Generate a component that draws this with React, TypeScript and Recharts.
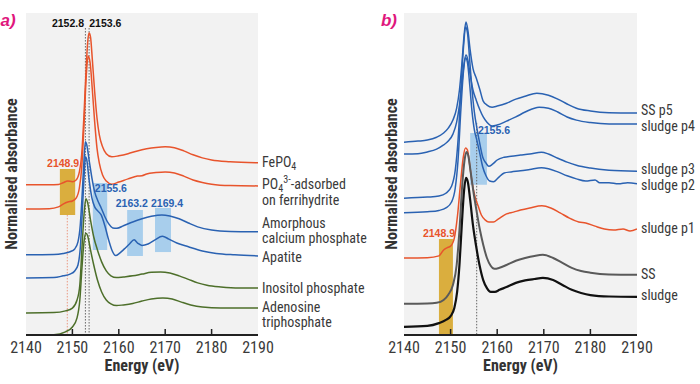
import { LineChart, Line, XAxis, YAxis, CartesianGrid, ReferenceArea, ReferenceLine, ReferenceDot } from 'recharts';

// energy axis
const E_MIN = 2140;
const E_MAX = 2190;
const ENERGY_TICKS = [2140, 2150, 2160, 2170, 2180, 2190];
const INNER_TICKS = [2150, 2160, 2170, 2180];
const Y_MAX = 9.2; // normalised absorbance incl. stacking offsets

const ORANGE = '#e8542c';
const BLUE = '#2a62b2';
const GREEN = '#4d6f2a';
const GREY = '#5a5a5a';
const BLACK = '#111111';
const FRAME = '#222222';
const TEXT = '#3a3a3a';
const NARROW = "'Liberation Sans Narrow', 'Roboto Condensed', 'DejaVu Sans Condensed', Roboto, sans-serif";
const ARIAL = "'Liberation Sans', Arial, sans-serif";

// ---- panel a spectra: [energy eV, normalised absorbance] ----
const FEPO4: [number, number][] = [
  [2140, 0], [2145, 0], [2147, 0.01], [2148, 0.06], [2149, 0.11], [2150, 0.09], [2150.8, 0.14],
  [2151.5, 0.37], [2152, 0.86], [2152.5, 2.0], [2153, 3.43], [2153.3, 4.09], [2153.6, 4.34],
  [2153.9, 4.23], [2154.3, 3.57], [2154.8, 2.66], [2155.3, 1.91], [2155.8, 1.43], [2156.5, 1.09],
  [2157.3, 0.89], [2158.5, 0.8], [2160, 0.83], [2162, 0.89], [2164, 0.97], [2166, 1.03],
  [2168, 1.07], [2170, 1.09], [2172, 1.06], [2174, 0.97], [2176, 0.86], [2178, 0.77],
  [2180, 0.71], [2184, 0.66], [2190, 0.63],
];
const PO4_FERRIHYDRITE: [number, number][] = [
  [2140, 0], [2145, 0.01], [2147, 0.06], [2148, 0.14], [2149, 0.2], [2150, 0.23], [2150.8, 0.31],
  [2151.5, 0.6], [2152, 1.17], [2152.5, 2.4], [2153, 3.83], [2153.4, 4.37], [2153.8, 4.2],
  [2154.3, 3.4], [2154.8, 2.49], [2155.3, 1.74], [2155.8, 1.31], [2156.5, 0.97], [2157.3, 0.8],
  [2158.5, 0.71], [2160, 0.77], [2162, 0.86], [2164, 0.94], [2165, 0.95], [2166, 1.0],
  [2168, 1.04], [2170, 1.06], [2172, 1.03], [2174, 0.94], [2176, 0.83], [2178, 0.76],
  [2180, 0.71], [2184, 0.67], [2190, 0.66],
];
const AMORPHOUS_CAP: [number, number][] = [
  [2140, 0], [2146, 0.01], [2148, 0.04], [2149.5, 0.09], [2150.5, 0.17], [2151.2, 0.37],
  [2151.7, 0.86], [2152.1, 1.71], [2152.5, 2.71], [2152.8, 3.23], [2153.1, 3.14], [2153.6, 2.71],
  [2154.2, 2.2], [2154.8, 1.8], [2155.5, 1.54], [2156.2, 1.34], [2157, 1.09], [2157.8, 0.89],
  [2158.7, 0.77], [2159.6, 0.76], [2161, 0.83], [2163, 0.94], [2165, 1.03], [2167, 1.1],
  [2169.3, 1.14], [2171, 1.11], [2173, 1.03], [2175, 0.91], [2177, 0.8], [2180, 0.71],
  [2184, 0.67], [2190, 0.66],
];
const APATITE: [number, number][] = [
  [2140, 0], [2146, 0.01], [2148, 0.06], [2149.5, 0.11], [2150.5, 0.2], [2151.2, 0.37],
  [2151.7, 0.86], [2152.1, 1.8], [2152.5, 2.86], [2152.8, 3.46], [2153.1, 3.37], [2153.6, 2.8],
  [2154.2, 2.29], [2154.8, 2.03], [2155.5, 1.91], [2156.2, 1.8], [2157, 1.49], [2157.8, 1.09],
  [2158.5, 0.8], [2159.3, 0.64], [2160.2, 0.71], [2161.2, 0.83], [2162.3, 0.97], [2163.3, 1.09],
  [2164.1, 0.99], [2165, 0.93], [2166.3, 0.97], [2167.8, 1.09], [2169.4, 1.19], [2170.8, 1.11],
  [2172.5, 1.0], [2175, 0.89], [2178, 0.77], [2181, 0.7], [2185, 0.66], [2190, 0.63],
];
const INOSITOL: [number, number][] = [
  [2140, 0], [2146, 0.01], [2148.5, 0.06], [2150, 0.14], [2151, 0.37], [2151.6, 0.8],
  [2152.1, 1.94], [2152.5, 2.8], [2152.9, 3.26], [2153.3, 3.14], [2153.9, 2.66], [2154.6, 2.17],
  [2155.4, 1.8], [2156.3, 1.46], [2157.3, 1.2], [2158.3, 1.06], [2159.5, 1.01], [2161, 1.03],
  [2163, 1.06], [2165, 1.11], [2167, 1.16], [2169, 1.17], [2171, 1.14], [2173, 1.06],
  [2175, 0.96], [2177, 0.86], [2179, 0.79], [2182, 0.74], [2186, 0.71], [2190, 0.71],
];
const ATP: [number, number][] = [
  [2140, 0], [2146, 0.01], [2148.5, 0.09], [2150, 0.23], [2151, 0.49], [2151.6, 1.0],
  [2152.1, 2.0], [2152.5, 2.66], [2152.9, 2.91], [2153.3, 2.83], [2153.9, 2.43], [2154.6, 2.0],
  [2155.4, 1.57], [2156.3, 1.23], [2157.3, 1.0], [2158.3, 0.89], [2159.5, 0.84], [2161, 0.86],
  [2163, 0.9], [2165, 0.97], [2167, 1.03], [2169.5, 1.06], [2171.5, 1.03], [2173.5, 0.94],
  [2175.5, 0.86], [2178, 0.8], [2182, 0.77], [2190, 0.77],
];
const OFFSETS_A = [4.29, 3.6, 2.29, 1.63, 0.63, 0];

// ---- panel b spectra ----
const SS_P5: [number, number][] = [
  [2140, 0], [2143, 0.03], [2145, 0.06], [2147, 0.14], [2148.5, 0.26], [2149.5, 0.4],
  [2150.5, 0.63], [2151.3, 0.97], [2151.9, 1.49], [2152.4, 2.2], [2152.9, 3.06], [2153.3, 3.43],
  [2153.7, 3.2], [2154.2, 2.63], [2154.8, 2.11], [2155.5, 1.83], [2156.3, 1.49], [2157, 1.17],
  [2157.8, 1.06], [2158.9, 1.0], [2160, 1.03], [2162, 1.11], [2164, 1.23], [2166, 1.31],
  [2168.5, 1.4], [2171, 1.34], [2173, 1.23], [2175, 1.09], [2177, 0.97], [2180, 0.89],
  [2184, 0.84], [2190, 0.83],
];
const SLUDGE_P4: [number, number][] = [
  [2140, 0], [2143, 0.01], [2145, 0.06], [2147, 0.14], [2148.5, 0.26], [2149.5, 0.37],
  [2150.5, 0.57], [2151.3, 0.91], [2151.9, 1.4], [2152.4, 1.97], [2152.9, 2.6], [2153.3, 2.83],
  [2153.7, 2.69], [2154.2, 2.26], [2154.8, 1.83], [2155.5, 1.54], [2156.3, 1.26], [2157, 1.06],
  [2157.8, 0.91], [2158.9, 0.8], [2160, 0.83], [2162, 0.94], [2164, 1.06], [2166, 1.2],
  [2169, 1.34], [2171, 1.31], [2173, 1.2], [2175, 1.06], [2177, 0.97], [2180, 0.9],
  [2184, 0.86], [2190, 0.86],
];
const SLUDGE_P3: [number, number][] = [
  [2140, 0], [2145, 0.03], [2147.5, 0.06], [2149, 0.14], [2150.2, 0.34], [2151, 0.8],
  [2151.6, 1.66], [2152.2, 3.09], [2152.8, 4.37], [2153.2, 4.89], [2153.6, 4.74], [2154.1, 3.94],
  [2154.6, 3.09], [2155.1, 2.46], [2155.6, 2.03], [2156.2, 1.6], [2156.9, 1.17], [2157.6, 1.0],
  [2158.2, 0.91], [2159, 0.97], [2160, 1.09], [2161.5, 1.17], [2163, 1.2], [2165, 1.23],
  [2167, 1.26], [2169.5, 1.31], [2171, 1.26], [2173, 1.14], [2175, 1.03], [2177, 0.94],
  [2180, 0.86], [2184, 0.8], [2190, 0.77],
];
const SLUDGE_P2: [number, number][] = [
  [2140, 0], [2145, 0.03], [2147.5, 0.07], [2149, 0.14], [2150.2, 0.31], [2151, 0.71],
  [2151.6, 1.51], [2152.2, 2.94], [2152.8, 4.09], [2153.2, 4.43], [2153.6, 4.31], [2154.1, 3.66],
  [2154.6, 2.89], [2155.1, 2.37], [2155.6, 2.09], [2156.2, 1.74], [2156.9, 1.31], [2157.6, 1.06],
  [2158.4, 0.91], [2159.2, 0.89], [2160.2, 1.0], [2161.5, 1.14], [2163, 1.17], [2165, 1.2],
  [2167, 1.24], [2169.5, 1.29], [2171, 1.26], [2173, 1.17], [2175, 1.06], [2177, 0.97],
  [2179, 0.91], [2181, 0.94], [2182, 0.86], [2184, 0.86], [2186, 0.83], [2188, 0.86], [2190, 0.83],
];
const SLUDGE_P1: [number, number][] = [
  [2140, 0], [2145, 0.01], [2147.5, 0.06], [2148.5, 0.23], [2149.2, 0.29], [2150, 0.34],
  [2150.8, 0.57], [2151.5, 1.23], [2152.1, 2.09], [2152.7, 2.86], [2153.2, 3.14], [2153.6, 3.09],
  [2154.1, 2.66], [2154.6, 2.17], [2155.2, 1.77], [2155.9, 1.49], [2156.6, 1.23], [2157.4, 1.09],
  [2158.2, 1.03], [2159.2, 1.03], [2160.2, 1.11], [2162, 1.26], [2163.5, 1.31], [2165, 1.37],
  [2167, 1.43], [2169.6, 1.49], [2171.5, 1.43], [2173.5, 1.29], [2175.5, 1.14], [2177.5, 1.03],
  [2179, 1.0], [2181, 0.91], [2183, 0.83], [2185, 0.8], [2187, 0.83], [2188.5, 0.77], [2190, 0.83],
];
const SS: [number, number][] = [
  [2140, 0], [2145, 0.01], [2147, 0.03], [2148.5, 0.11], [2149.5, 0.26], [2150.5, 0.54],
  [2151.3, 1.11], [2151.9, 2.11], [2152.5, 3.4], [2153, 4.11], [2153.4, 4.34], [2153.8, 4.23],
  [2154.3, 3.77], [2154.9, 3.2], [2155.6, 2.63], [2156.3, 2.11], [2157, 1.69], [2157.8, 1.31],
  [2158.6, 1.09], [2159.4, 1.0], [2160.5, 1.03], [2162, 1.11], [2164, 1.23], [2166, 1.31],
  [2168, 1.37], [2169.8, 1.4], [2172, 1.31], [2174, 1.17], [2176, 1.03], [2178, 0.94],
  [2180, 0.89], [2184, 0.84], [2190, 0.83],
];
const SLUDGE: [number, number][] = [
  [2140, 0], [2145, 0.03], [2147.5, 0.11], [2149, 0.2], [2150, 0.31], [2150.8, 0.54],
  [2151.4, 1.0], [2151.9, 1.77], [2152.4, 2.91], [2152.9, 3.91], [2153.3, 4.26], [2153.7, 4.14],
  [2154.2, 3.63], [2154.8, 2.91], [2155.5, 2.29], [2156.2, 1.77], [2157, 1.34], [2157.8, 1.11],
  [2158.6, 1.0], [2159.5, 1.0], [2160.5, 1.06], [2162, 1.14], [2164, 1.26], [2166, 1.33],
  [2168, 1.37], [2169.8, 1.4], [2172, 1.34], [2174, 1.2], [2176, 1.06], [2178, 0.97],
  [2180, 0.91], [2184, 0.87], [2190, 0.86],
];
const OFFSETS_B = [5.51, 5.17, 3.91, 3.49, 2.2, 0.89, 0.23];

type Spec = { pts: [number, number][]; color: string; width?: number };

const SPECTRA_A: Spec[] = [
  { pts: FEPO4, color: ORANGE },
  { pts: PO4_FERRIHYDRITE, color: ORANGE },
  { pts: AMORPHOUS_CAP, color: BLUE },
  { pts: APATITE, color: BLUE },
  { pts: INOSITOL, color: GREEN },
  { pts: ATP, color: GREEN },
];
const SPECTRA_B: Spec[] = [
  { pts: SS_P5, color: BLUE },
  { pts: SLUDGE_P4, color: BLUE },
  { pts: SLUDGE_P3, color: BLUE },
  { pts: SLUDGE_P2, color: BLUE },
  { pts: SLUDGE_P1, color: ORANGE },
  { pts: SS, color: GREY, width: 2 },
  { pts: SLUDGE, color: BLACK, width: 2.2 },
];

// right-hand sample names; y is where the first line sits
const LABELS_A = [
  { lines: ['FePO_{4}'], y: 4.94 },
  { lines: ['PO_{4}^{3-}-adsorbed', 'on ferrihydrite'], y: 4.31, gap: 16 },
  { lines: ['Amorphous', 'calcium phosphate'], y: 3.2 },
  { lines: ['Apatite'], y: 2.23 },
  { lines: ['Inositol phosphate'], y: 1.34 },
  { lines: ['Adenosine', 'triphosphate'], y: 0.8 },
];
const LABELS_B = [
  { lines: ['SS p5'], y: 6.43 },
  { lines: ['sludge p4'], y: 5.97 },
  { lines: ['sludge p3'], y: 4.74 },
  { lines: ['sludge p2'], y: 4.29 },
  { lines: ['sludge p1'], y: 3.06 },
  { lines: ['SS'], y: 1.74 },
  { lines: ['sludge'], y: 1.14 },
];

// peak energies with highlight boxes
const BOXES_A = [
  { x1: 2147.3, x2: 2150.6, y1: 3.43, y2: 4.74, kind: 'pre' },
  { x1: 2154.4, x2: 2157.5, y1: 2.43, y2: 4.34, kind: 'post' },
  { x1: 2161.8, x2: 2165.2, y1: 2.26, y2: 3.57, kind: 'post' },
  { x1: 2167.8, x2: 2171.25, y1: 2.37, y2: 3.63, kind: 'post' },
];
const BOXES_B = [
  { x1: 2147.5, x2: 2150.5, y1: 0, y2: 2.74, kind: 'pre' },
  { x1: 2154.2, x2: 2157.8, y1: 4.29, y2: 5.77, kind: 'post' },
];
const NOTES_A = [
  { text: '2152.8', x: 2149.05, y: 8.91, color: '#111111' },
  { text: '2153.6', x: 2157.1, y: 8.91, color: '#111111' },
  { text: '2148.9', x: 2148.0, y: 4.91, color: ORANGE },
  { text: '2155.6', x: 2158.3, y: 4.2, color: BLUE },
  { text: '2163.2', x: 2162.8, y: 3.77, color: BLUE },
  { text: '2169.4', x: 2170.4, y: 3.77, color: BLUE },
];
const NOTES_B = [
  { text: '2155.6', x: 2159.3, y: 5.86, color: BLUE },
  { text: '2148.9', x: 2147.5, y: 2.91, color: ORANGE },
];
const GUIDES_A = [
  { x: 2152.8, top: 8.77, color: '#666666' },
  { x: 2153.6, top: 8.77, color: '#666666' },
  { x: 2148.9, top: 3.43, color: '#eb9a82' },
];
const GUIDES_B = [{ x: 2155.6, top: 6.06, color: '#666666' }];

function Rich({ s, x, y, size, ...rest }: any) {
  const parts = s.split(/(_\{[^}]*\}|\^\{[^}]*\})/).filter(Boolean);
  let shift = 0;
  return (
    <text x={x} y={y} fontSize={size} dominantBaseline="central" {...rest}>
      {parts.map((p: string, i: number) => {
        let target = 0;
        let txt = p;
        let fs = size;
        if (p.startsWith('_{')) { target = 4; txt = p.slice(2, -1); fs = size * 0.72; }
        else if (p.startsWith('^{')) { target = -5; txt = p.slice(2, -1); fs = size * 0.72; }
        const dy = target - shift;
        shift = target;
        return <tspan key={i} dy={dy} fontSize={fs}>{txt}</tspan>;
      })}
    </text>
  );
}

function BottomTick({ x, y, payload }: any) {
  return (
    <g>
      {INNER_TICKS.includes(payload.value) && (
        <line x1={x} x2={x} y1={y} y2={y - 6} stroke={FRAME} strokeWidth={1.5} />
      )}
      <text x={x} y={y + 18} textAnchor="middle" fontSize={16} fontFamily={NARROW} fill={TEXT}>
        {payload.value}
      </text>
    </g>
  );
}

function TopTick({ x, y }: any) {
  return <line x1={x} x2={x} y1={y} y2={y + 4} stroke={FRAME} strokeWidth={1} />;
}

function Panel({ tag, spectra, offsets, labels, boxes, notes, guides, width, marginLeft, marginRight, tagDx, yLabelDx }: any) {
  return (
    <LineChart width={width} height={384} margin={{ top: 13, right: marginRight, bottom: 0, left: marginLeft }}>
      <CartesianGrid horizontal={false} vertical={false} fill="#f2f2f2" />
      <XAxis
        dataKey="e" type="number" domain={[E_MIN, E_MAX]} allowDataOverflow ticks={ENERGY_TICKS} interval={0}
        height={49} tickSize={0} tickMargin={0} tickLine={false} tick={<BottomTick />}
        axisLine={{ stroke: FRAME, strokeWidth: 2 }}
        label={{ value: 'Energy (eV)', position: 'insideBottom', offset: 13, fontSize: 16, fontWeight: 700, fontFamily: NARROW, fill: '#333' }}
      />
      <XAxis
        xAxisId="top" orientation="top" type="number" domain={[E_MIN, E_MAX]} allowDataOverflow ticks={INNER_TICKS}
        height={0} tickSize={0} tickMargin={0} tickLine={false} tick={<TopTick />}
        axisLine={{ stroke: FRAME, strokeWidth: 2 }}
      />
      <YAxis type="number" domain={[0, Y_MAX]} allowDataOverflow width={0} tick={false} tickLine={false}
        axisLine={{ stroke: FRAME, strokeWidth: 2 }} />
      <YAxis yAxisId="right" orientation="right" type="number" domain={[0, Y_MAX]} allowDataOverflow width={0}
        tick={false} tickLine={false} axisLine={{ stroke: FRAME, strokeWidth: 2 }} />

      {boxes.map((b: any, i: number) => (
        <ReferenceArea key={'b' + i} x1={b.x1} x2={b.x2} y1={b.y1} y2={b.y2} ifOverflow="visible"
          fill={b.kind === 'pre' ? '#d6a21f' : '#8fc1ea'} fillOpacity={b.kind === 'pre' ? 0.85 : 0.75} stroke="none" />
      ))}
      {guides.map((g: any, i: number) => (
        <ReferenceLine key={'g' + i} segment={[{ x: g.x, y: g.top }, { x: g.x, y: 0 }]}
          stroke={g.color} strokeDasharray="1.5 1.5" strokeWidth={1} ifOverflow="visible" />
      ))}

      {spectra.map((s: Spec, i: number) => (
        <Line key={'s' + i} data={s.pts.map(([e, a]) => ({ e, v: a + offsets[i] }))} dataKey="v"
          type="monotone" dot={false} activeDot={false} stroke={s.color} strokeWidth={s.width ?? 1.5}
          isAnimationActive={false} />
      ))}

      {notes.map((n: any, i: number) => (
        <ReferenceDot key={'n' + i} x={n.x} y={n.y} r={0} ifOverflow="visible" stroke="none"
          label={(p: any) => (
            <text x={p.viewBox.x} y={p.viewBox.y} textAnchor="middle" dominantBaseline="central"
              fontSize={10.5} fontWeight={700} fontFamily={ARIAL} fill={n.color}>{n.text}</text>
          )} />
      ))}
      {labels.map((l: any, i: number) => (
        <ReferenceDot key={'l' + i} x={E_MAX} y={l.y} r={0} ifOverflow="visible" stroke="none"
          label={(p: any) => (
            <g>
              {l.lines.map((line: string, j: number) => (
                <Rich key={j} s={line} x={p.viewBox.x + 4} y={p.viewBox.y + j * (l.gap ?? 14.5)} size={14}
                  fontFamily={NARROW} fill={TEXT} />
              ))}
            </g>
          )} />
      ))}
      <ReferenceDot x={E_MIN} y={Y_MAX} r={0} ifOverflow="visible" stroke="none"
        label={(p: any) => (
          <g>
            <text x={p.viewBox.x + tagDx} y={p.viewBox.y + 7} textAnchor="middle" dominantBaseline="central"
              fontSize={17} fontWeight={700} fontStyle="italic" fontFamily={ARIAL} fill="#e0177d">{tag}</text>
            <text transform={`translate(${p.viewBox.x + yLabelDx}, ${p.viewBox.y + 161}) rotate(-90)`}
              textAnchor="middle" dominantBaseline="central" fontSize={16} fontWeight={700}
              fontFamily={NARROW} fill="#333">Normalised absorbance</text>
          </g>
        )} />
    </LineChart>
  );
}

export default function App() {
  return (
    <div style={{ position: 'absolute', left: 0, top: 0, width: 700, height: 384, background: '#fff', overflow: 'hidden' }}>
      <div style={{ position: 'absolute', left: 0, top: 0 }}>
        <Panel tag="a)" spectra={SPECTRA_A} offsets={OFFSETS_A} labels={LABELS_A} boxes={BOXES_A} notes={NOTES_A}
          guides={GUIDES_A} width={372} marginLeft={26} marginRight={114} tagDx={-18} yLabelDx={-15} />
      </div>
      <div style={{ position: 'absolute', left: 350, top: 0 }}>
        <Panel tag="b)" spectra={SPECTRA_B} offsets={OFFSETS_B} labels={LABELS_B} boxes={BOXES_B} notes={NOTES_B}
          guides={GUIDES_B} width={350} marginLeft={54} marginRight={63} tagDx={-15} yLabelDx={-13} />
      </div>
    </div>
  );
}
